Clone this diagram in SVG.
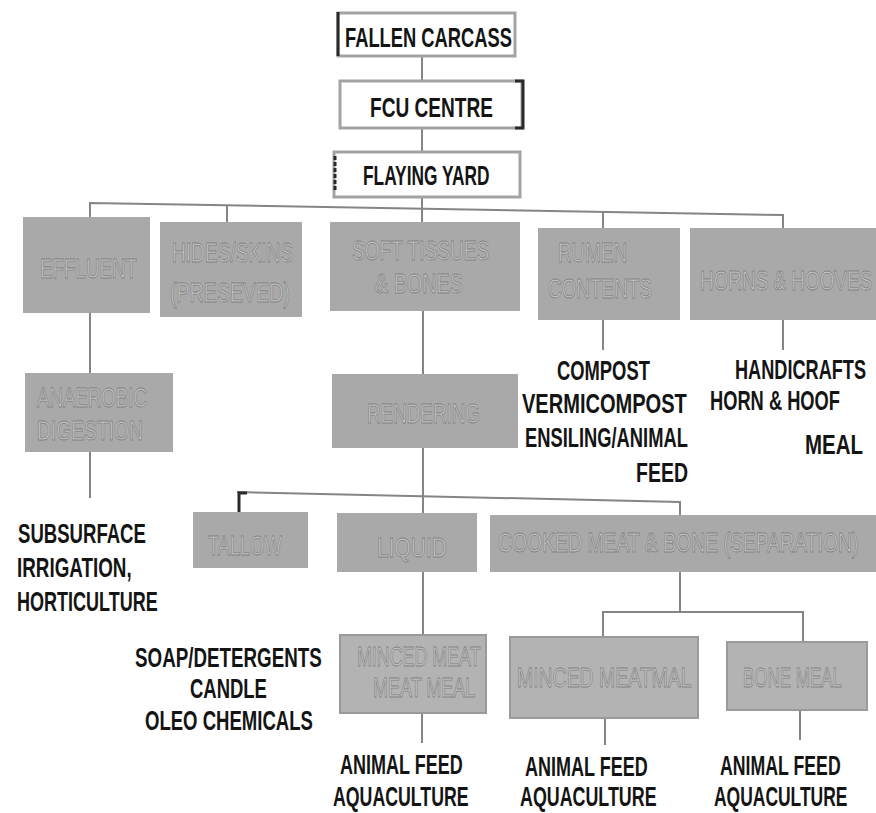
<svg xmlns="http://www.w3.org/2000/svg" width="876" height="813" viewBox="0 0 876 813">
<style>
.t{font-family:"Liberation Sans",Arial,sans-serif;font-weight:bold;font-size:27px;fill:#141414}
.g{font-family:"Liberation Sans",Arial,sans-serif;font-size:27px;fill:#c6c6c6;stroke:#808080;stroke-width:0.8}
.box{fill:#a9a9a9}
.lbox{fill:#b3b3b3;stroke:#9a9a9a;stroke-width:2}
.wbox{fill:#fff;stroke:#a3a3a3;stroke-width:3}
.c{stroke:#858585;stroke-width:2;fill:none}
.d{stroke:#2a2a2a;stroke-width:3;fill:none}
</style>
<rect width="876" height="813" fill="#fff"/>
<g id="connectors">
<path class="c" d="M422,56 V81 M422,128 V152 M422,197 V222"/>
<path class="c" d="M90,217 V203 L783,215 V229"/>
<path class="c" d="M227,205 V222 M603,212 V228"/>
<path class="c" d="M90,313 V373 M90,452 V498"/>
<path class="c" d="M423,311 V374 M423,448 V635"/>
<path class="c" d="M237,492 L680,502 V515"/>
<path class="d" d="M239,512 V493 H247" stroke-width="4"/>
<path class="c" d="M603,320 V350 M783,320 V350"/>
<path class="c" d="M680,572 V612 M603,637 V612 H803 V642"/>
<path class="c" d="M422,713 V743 M605,718 V745 M800,710 V740"/>
</g>
<g id="fallen-carcass">
<rect class="wbox" x="338" y="13" width="177" height="43"/>
<path class="d" d="M338,12 V56"/>
<text class="t" transform="translate(345,47) scale(0.679,1)">FALLEN CARCASS</text>
</g>
<g id="fcu-centre">
<rect class="wbox" x="340" y="81" width="182" height="47"/>
<path class="d" d="M515,81 H523 V128 H515"/>
<text class="t" transform="translate(370,117) scale(0.707,1)">FCU CENTRE</text>
</g>
<g id="flaying-yard">
<rect class="wbox" x="334" y="152" width="186" height="45"/>
<path class="d" d="M335,156 V192" stroke-dasharray="4 2" stroke-width="2"/>
<text class="t" transform="translate(363,185) scale(0.642,1)">FLAYING YARD</text>
</g>
<g id="effluent">
<rect class="box" x="23" y="217" width="127" height="96"/>
<text class="g" transform="translate(40,278) scale(0.695,1)">EFFLUENT</text>
</g>
<g id="hides-skins">
<rect class="box" x="160" y="222" width="142" height="95"/>
<text class="g" transform="translate(172,262) scale(0.708,1)">HIDES/SKINS</text>
<text class="g" transform="translate(170,302) scale(0.727,1)">(PRESEVED)</text>
</g>
<g id="soft-tissues">
<rect class="box" x="330" y="222" width="190" height="89"/>
<text class="g" transform="translate(352,260) scale(0.708,1)">SOFT TISSUES</text>
<text class="g" transform="translate(375,293) scale(0.733,1)">&amp; BONES</text>
</g>
<g id="rumen-contents">
<rect class="box" x="538" y="228" width="142" height="92"/>
<text class="g" transform="translate(558,262) scale(0.697,1)">RUMEN</text>
<text class="g" transform="translate(548,298) scale(0.700,1)">CONTENTS</text>
</g>
<g id="horns-hooves">
<rect class="box" x="690" y="228" width="186" height="92"/>
<text class="g" transform="translate(700,290) scale(0.700,1)">HORNS &amp; HOOVES</text>
</g>
<g id="anaerobic-digestion">
<rect class="box" x="25" y="373" width="148" height="79"/>
<text class="g" transform="translate(37,407) scale(0.692,1)">ANAEROBIC</text>
<text class="g" transform="translate(37,440) scale(0.714,1)">DIGESTION</text>
</g>
<g id="rendering">
<rect class="box" x="332" y="374" width="186" height="74"/>
<text class="g" transform="translate(367,423) scale(0.698,1)">RENDERING</text>
</g>
<g id="tallow">
<rect class="box" x="193" y="512" width="115" height="56"/>
<text class="g" transform="translate(208,555) scale(0.676,1)">TALLOW</text>
</g>
<g id="liquid">
<rect class="box" x="337" y="513" width="140" height="59"/>
<text class="g" transform="translate(377,557) scale(0.778,1)">LIQUID</text>
</g>
<g id="cooked-meat-bone">
<rect class="box" x="490" y="515" width="387" height="57"/>
<text class="g" transform="translate(498,552) scale(0.718,1)">COOKED MEAT &amp; BONE (SEPARATION)</text>
</g>
<g id="minced-meat-meal">
<rect class="lbox" x="340" y="635" width="146" height="78"/>
<text class="g" transform="translate(357,666) scale(0.661,1)">MINCED MEAT</text>
<text class="g" transform="translate(373,697) scale(0.667,1)">MEAT MEAL</text>
</g>
<g id="minced-meatmal">
<rect class="lbox" x="510" y="637" width="188" height="81"/>
<text class="g" transform="translate(517,687) scale(0.720,1)">MINCED MEATMAL</text>
</g>
<g id="bone-meal">
<rect class="lbox" x="727" y="642" width="140" height="68"/>
<text class="g" transform="translate(743,687) scale(0.629,1)">BONE MEAL</text>
</g>
<g id="out-subsurface">
<text class="t" transform="translate(18,543) scale(0.688,1)">SUBSURFACE</text>
<text class="t" transform="translate(17,577) scale(0.697,1)">IRRIGATION,</text>
<text class="t" transform="translate(17,611) scale(0.667,1)">HORTICULTURE</text>
</g>
<g id="out-compost">
<text class="t" transform="translate(557,380) scale(0.681,1)">COMPOST</text>
<text class="t" transform="translate(522,413) scale(0.743,1)">VERMICOMPOST</text>
<text class="t" transform="translate(525,447) scale(0.679,1)">ENSILING/ANIMAL</text>
<text class="t" transform="translate(636,482) scale(0.722,1)">FEED</text>
</g>
<g id="out-handicrafts">
<text class="t" transform="translate(735,379) scale(0.672,1)">HANDICRAFTS</text>
<text class="t" transform="translate(710,410) scale(0.677,1)">HORN &amp; HOOF</text>
<text class="t" transform="translate(805,454) scale(0.758,1)">MEAL</text>
</g>
<g id="out-soap">
<text class="t" transform="translate(135,667) scale(0.696,1)">SOAP/DETERGENTS</text>
<text class="t" transform="translate(190,698) scale(0.684,1)">CANDLE</text>
<text class="t" transform="translate(145,730) scale(0.687,1)">OLEO CHEMICALS</text>
</g>
<g id="out-feed-1">
<text class="t" transform="translate(340,774) scale(0.667,1)">ANIMAL FEED</text>
<text class="t" transform="translate(333,806) scale(0.657,1)">AQUACULTURE</text>
</g>
<g id="out-feed-2">
<text class="t" transform="translate(525,776) scale(0.667,1)">ANIMAL FEED</text>
<text class="t" transform="translate(520,806) scale(0.662,1)">AQUACULTURE</text>
</g>
<g id="out-feed-3">
<text class="t" transform="translate(720,775) scale(0.656,1)">ANIMAL FEED</text>
<text class="t" transform="translate(714,806) scale(0.647,1)">AQUACULTURE</text>
</g>
</svg>
